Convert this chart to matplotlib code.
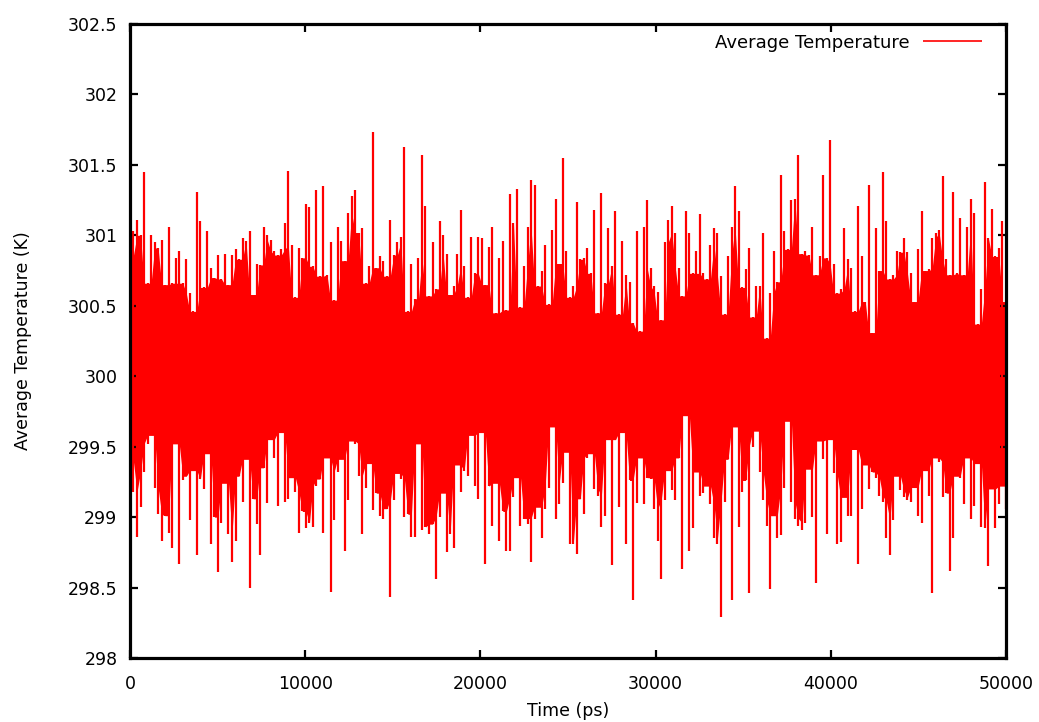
import numpy as np
import pandas as pd
from matplotlib import pyplot as plt
from matplotlib.ticker import FormatStrFormatter, MultipleLocator

# upper and lower excursions of the trace (~200 ps apart)
temp_high = [
    300.86, 301.03, 301.11, 301.00, 301.45, 300.66, 301.00, 300.95, 300.91, 300.97,
    300.65, 301.06, 300.66, 300.84, 300.89, 300.66, 300.83, 300.59, 300.46, 301.31,
    301.10, 300.63, 301.03, 300.77, 300.70, 300.86, 300.69, 300.87, 300.65, 300.86,
    300.90, 300.83, 300.98, 300.96, 301.03, 300.58, 300.80, 300.79, 301.06, 301.00,
    300.97, 300.89, 300.86, 300.90, 301.09, 301.46, 300.93, 300.56, 300.91, 300.84,
    301.22, 301.20, 300.78, 301.32, 300.71, 301.35, 300.72, 300.95, 300.54, 301.06,
    300.96, 300.82, 301.16, 301.28, 301.32, 301.02, 301.05, 300.66, 300.78, 301.73,
    300.77, 300.85, 300.82, 300.71, 301.11, 300.86, 300.95, 300.99, 301.63, 300.46,
    300.80,
    300.55, 300.84, 301.57, 301.21, 300.57, 300.95, 300.62, 301.10, 301.00, 300.87,
    300.58, 300.64, 300.87, 301.18, 300.78, 300.56, 300.99, 300.73, 300.99, 300.98,
    300.65, 300.92, 301.06, 300.45, 300.84, 300.96, 300.47, 301.29, 301.09, 301.33,
    300.49, 300.78, 301.06, 301.39, 301.36, 300.64, 300.75, 300.93, 300.51, 301.04,
    301.26,
    300.80, 301.55, 300.89, 300.56, 300.64, 301.24, 300.83, 300.84, 300.91, 300.73,
    301.18, 300.45, 301.30, 300.66, 301.05, 300.78, 301.17, 300.44, 300.96, 300.72,
    300.67, 300.38, 301.03, 300.32, 301.06, 301.25, 300.77, 300.64, 300.60, 300.40,
    300.95, 301.11, 301.21, 301.02, 300.77, 300.57, 301.17, 301.02, 300.73, 300.89,
    301.15,
    300.73, 300.69, 300.93, 301.05, 301.02, 300.71, 300.44, 300.85, 301.06, 301.35,
    301.17, 300.63, 300.76, 300.91, 300.42, 300.64, 300.64, 301.02, 300.27, 300.59,
    300.89, 300.67, 301.43, 301.03, 300.90, 301.25, 301.26, 301.57, 300.87, 300.89,
    300.86, 301.06, 300.72, 300.85, 301.43, 300.84, 301.68, 300.80, 300.59, 300.62,
    301.05, 300.83,
    300.77, 300.46, 301.21, 300.85, 300.53, 301.36, 300.31, 301.05, 300.75, 301.45,
    301.10, 300.69, 300.72, 300.89, 300.88, 300.98, 300.88, 300.73, 300.53, 300.90,
    301.17, 300.75, 300.76, 300.98, 301.02, 301.04, 301.42, 300.83, 300.72, 301.31,
    300.73, 301.12, 300.72, 301.06, 301.26, 301.16, 300.37, 300.62, 301.38, 300.98,
    301.19, 300.85, 300.91, 301.10, 300.53,
]

temp_low = [
    299.39, 299.18, 298.86, 299.07, 299.32, 299.52, 299.58, 299.21, 299.02, 298.83,
    299.01, 298.89, 298.78, 299.52, 298.67, 299.26, 299.29, 298.98, 299.33, 298.73,
    299.27, 299.20, 299.45, 298.81, 299.00, 298.61, 298.96, 299.24, 298.88, 298.68,
    298.83, 299.29, 299.11, 299.41, 298.50, 299.13, 298.95, 298.73, 299.35, 299.10,
    299.55, 299.42, 299.08, 299.60, 299.11, 299.13, 299.28, 299.18, 298.89, 299.04,
    298.92, 298.96, 298.93, 299.22, 299.27, 298.89, 299.42, 298.47, 298.98, 299.32,
    299.41, 298.76, 299.12, 299.54, 299.52, 299.29, 298.88, 299.21, 299.38, 299.05,
    299.17, 299.01, 298.99, 299.06, 298.43, 299.12, 299.31, 299.27, 299.00, 299.02,
    298.86,
    298.86, 299.52, 298.91, 298.93, 298.88, 298.95, 298.56, 299.00, 299.17, 298.75,
    298.88, 298.78, 299.37, 299.18, 299.33, 299.29, 299.58, 299.22, 299.13, 299.60,
    298.67, 299.22, 298.94, 299.24, 298.83, 299.04, 298.76, 298.76, 299.14, 299.28,
    298.94, 298.99, 298.95, 298.68, 298.99, 299.07, 298.85, 299.06, 299.21, 299.64,
    298.99,
    299.09, 299.24, 299.46, 298.81, 298.81, 298.74, 299.13, 299.02, 299.42, 299.45,
    299.20, 299.15, 298.93, 299.01, 299.55, 298.66, 299.55, 299.07, 299.60, 298.81,
    299.26, 298.41, 299.10, 299.42, 299.09, 299.28, 299.27, 299.06, 298.83, 298.56,
    299.12, 299.33, 299.19, 299.12, 299.42, 298.63, 299.72, 298.76, 298.92, 299.32,
    299.15,
    299.17, 299.22, 299.09, 298.85, 298.81, 298.29, 299.11, 299.41, 298.41, 299.64,
    298.93, 299.18, 299.26, 298.46, 299.50, 299.61, 299.32, 299.12, 298.94, 298.49,
    299.01, 298.85, 298.87, 299.21, 299.68, 299.11, 298.99, 298.94, 298.91, 298.96,
    299.34, 299.00, 298.53, 299.54, 299.41, 298.88, 299.55, 299.31, 298.81, 298.82,
    299.14, 299.01,
    299.01, 299.48, 298.67, 299.06, 299.37, 299.20, 299.32, 299.28, 299.15, 299.11,
    298.85, 298.73, 298.98, 299.29, 299.19, 299.14, 299.12, 299.11, 299.21, 299.01,
    298.96, 299.33, 299.15, 298.46, 299.42, 299.39, 299.14, 299.17, 298.62, 298.85,
    299.29, 299.28, 299.09, 299.42, 298.99, 299.08, 299.38, 298.93, 298.92, 298.65,
    299.20, 298.92, 299.09, 299.22, 299.06,
]

y_ticks = [298, 298.5, 299, 299.5, 300, 300.5, 301, 301.5, 302, 302.5]

# sample times, evenly spaced over the run
time_ps = np.linspace(0, 50000, len(temp_high))

# where neighbouring swings overlap the trace is solid red
core_top = pd.Series(temp_high).rolling(3, center=True, min_periods=1).min()
core_bot = pd.Series(temp_low).rolling(3, center=True, min_periods=1).max()

plt.rcParams['font.family'] = 'DejaVu Sans'
plt.rcParams['font.size'] = 12.5

fig = plt.figure(figsize=(10.39, 7.22), dpi=100)
ax = fig.add_axes([0.1251, 0.0886, 0.8431, 0.8782])

ax.fill_between(time_ps, core_bot, core_top, color='#ff0000', linewidth=0)
ax.vlines(time_ps, temp_low, temp_high, color='#ff0000', linewidth=1.6,
          label='Average Temperature')

ax.set_xlim(0, 50000)
ax.set_ylim(298, 302.5)
ax.xaxis.set_major_locator(MultipleLocator(10000))
ax.set_yticks(y_ticks)
ax.yaxis.set_major_formatter(FormatStrFormatter('%g'))
ax.xaxis.set_major_formatter(FormatStrFormatter('%g'))

for s in ax.spines.values():
    s.set_linewidth(2.3)
ax.tick_params(direction='in', length=6, width=1.6, top=True, right=True)
ax.tick_params(axis='y', pad=9)
ax.tick_params(axis='x', pad=12)

ax.set_xlabel('Time (ps)', labelpad=7)
ax.set_ylabel('Average Temperature (K)', labelpad=26)

leg = ax.legend(loc='upper right', bbox_to_anchor=(0.981, 0.996), borderaxespad=0,
                frameon=False, markerfirst=False, fontsize=13,
                handlelength=3.3, handletextpad=0.7)
for h in leg.legend_handles:
    h.set_linewidth(1.2)

fig.savefig('out.png', dpi=100)
